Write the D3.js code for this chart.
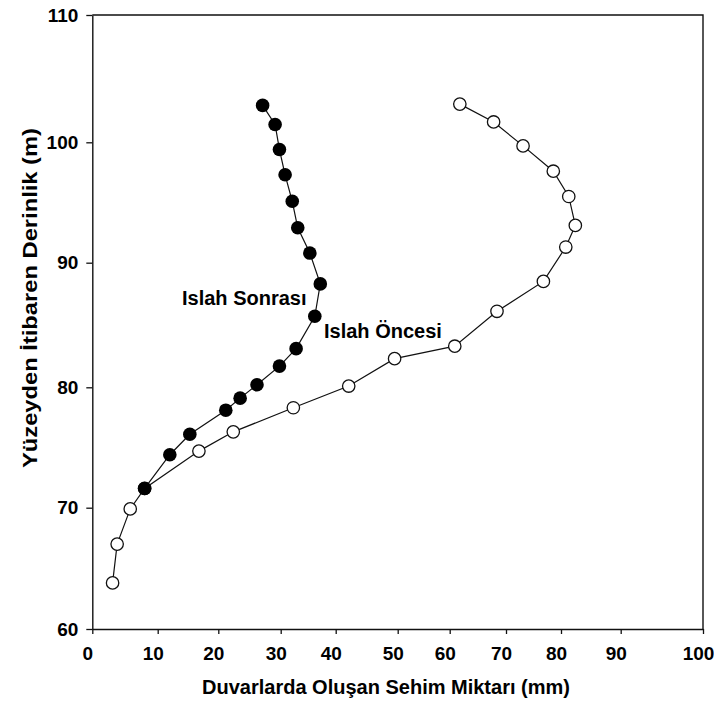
<!DOCTYPE html>
<html>
<head>
<meta charset="utf-8">
<script src="https://cdn.jsdelivr.net/npm/d3@7"></script>
<style>
  body { margin: 0; background: #fff; }
  text { font-family: "Liberation Sans", Arial, sans-serif; font-weight: bold; fill: #000; }
</style>
</head>
<body>
<div id="chart"></div>
<script>
// deflection (mm) vs depth (m)
var oncesiDeflection = [3.1, 3.8, 5.8, 8.0, 16.8, 22.4, 32.3, 42.1, 49.5, 60.9, 68.4, 76.8, 80.8, 82.4, 81.3, 78.6, 73.1, 67.8, 61.8];
var oncesiDepth      = [63.8, 67.0, 69.9, 71.6, 74.7, 76.3, 78.3, 80.1, 82.3, 83.3, 86.1, 88.5, 91.3, 93.1, 95.5, 97.6, 99.7, 101.6, 103.0];

var sonrasiDeflection = [27.1, 29.1, 29.8, 30.8, 32.1, 33.1, 35.3, 37.2, 36.2, 32.8, 29.8, 26.2, 23.5, 21.2, 15.3, 12.0, 8.0];
var sonrasiDepth      = [102.9, 101.4, 99.4, 97.3, 95.1, 92.9, 90.8, 88.3, 85.7, 83.1, 81.7, 80.2, 79.1, 78.1, 76.1, 74.4, 71.6];

var xTickValues = [0, 10, 20, 30, 40, 50, 60, 70, 80, 90, 100];
var yTickValues = [60, 70, 80, 90, 100, 110];

var seriesLabels = ["Islah Sonrası", "Islah Öncesi"];
var xTitle = "Duvarlarda Oluşan Sehim Miktarı (mm)";
var yTitle = "Yüzeyden İtibaren Derinlik (m)";

var width = 714, height = 702;

// tick spacing in the original is not even, so map each tick to where it sits
var xTickPx = [92.3, 157.7, 218.3, 280.7, 335.7, 397.7, 449.7, 506, 561, 620.7, 703];
var yTickPx = [629, 507.7, 387.3, 262.7, 142.3, 15];

var x = d3.scaleLinear().domain(xTickValues).range(xTickPx);
var y = d3.scaleLinear().domain(yTickValues).range(yTickPx);

var svg = d3.select("#chart")
	.append("svg")
	.attr("width", width)
	.attr("height", height);

// frame (top and right)
svg.append("path")
	.attr("d", "M" + x(0) + "," + y(110) + "H" + x(100) + "V" + y(60))
	.attr("fill", "none")
	.attr("stroke", "#111")
	.attr("stroke-width", 1.4);

// x axis
var xAxis = svg.append("g")
	.attr("transform", "translate(0," + y(60) + ")")
	.call(d3.axisBottom(x).tickValues(xTickValues).tickSize(5).tickSizeOuter(0).tickPadding(13));
xAxis.select(".domain").attr("stroke", "#111").attr("stroke-width", 1.4);
xAxis.selectAll(".tick line").attr("stroke", "#111").attr("stroke-width", 1.3);
xAxis.selectAll(".tick text")
	.attr("font-size", 19)
	.attr("dx", -5)
	.attr("font-family", null);

// y axis
var yAxis = svg.append("g")
	.attr("transform", "translate(" + x(0) + ",0)")
	.call(d3.axisLeft(y).tickValues(yTickValues).tickSize(6).tickSizeOuter(0).tickPadding(8));
yAxis.select(".domain").attr("stroke", "#111").attr("stroke-width", 1.4);
yAxis.selectAll(".tick line").attr("stroke", "#111").attr("stroke-width", 1.3);
yAxis.selectAll(".tick text")
	.attr("font-size", 19)
	.attr("font-family", null);

// axis titles
svg.append("text")
	.attr("x", 386)
	.attr("y", 694)
	.attr("text-anchor", "middle")
	.attr("font-size", 20)
	.text(xTitle);

svg.append("text")
	.attr("transform", "translate(37,298) rotate(-90)")
	.attr("text-anchor", "middle")
	.attr("font-size", 20)
	.attr("textLength", 340)
	.attr("lengthAdjust", "spacingAndGlyphs")
	.text(yTitle);

var line = d3.line()
	.x(function (d) { return x(d[0]); })
	.y(function (d) { return y(d[1]); });

var oncesi = d3.zip(oncesiDeflection, oncesiDepth);
var sonrasi = d3.zip(sonrasiDeflection, sonrasiDepth);

// before (open circles)
svg.append("path")
	.datum(oncesi)
	.attr("fill", "none")
	.attr("stroke", "#111")
	.attr("stroke-width", 1.2)
	.attr("d", line);

svg.selectAll(".open")
	.data(oncesi)
	.enter().append("circle")
	.attr("class", "open")
	.attr("cx", function (d) { return x(d[0]); })
	.attr("cy", function (d) { return y(d[1]); })
	.attr("r", 6.2)
	.attr("fill", "#fff")
	.attr("stroke", "#111")
	.attr("stroke-width", 1.3);

// after (filled circles)
svg.append("path")
	.datum(sonrasi)
	.attr("fill", "none")
	.attr("stroke", "#111")
	.attr("stroke-width", 1.2)
	.attr("d", line);

svg.selectAll(".filled")
	.data(sonrasi)
	.enter().append("circle")
	.attr("class", "filled")
	.attr("cx", function (d) { return x(d[0]); })
	.attr("cy", function (d) { return y(d[1]); })
	.attr("r", 6.8)
	.attr("fill", "#000");

// series labels
svg.append("text")
	.attr("x", 182)
	.attr("y", 305)
	.attr("font-size", 20)
	.text(seriesLabels[0]);

svg.append("text")
	.attr("x", 324)
	.attr("y", 338)
	.attr("font-size", 20)
	.text(seriesLabels[1]);
</script>
</body>
</html>
